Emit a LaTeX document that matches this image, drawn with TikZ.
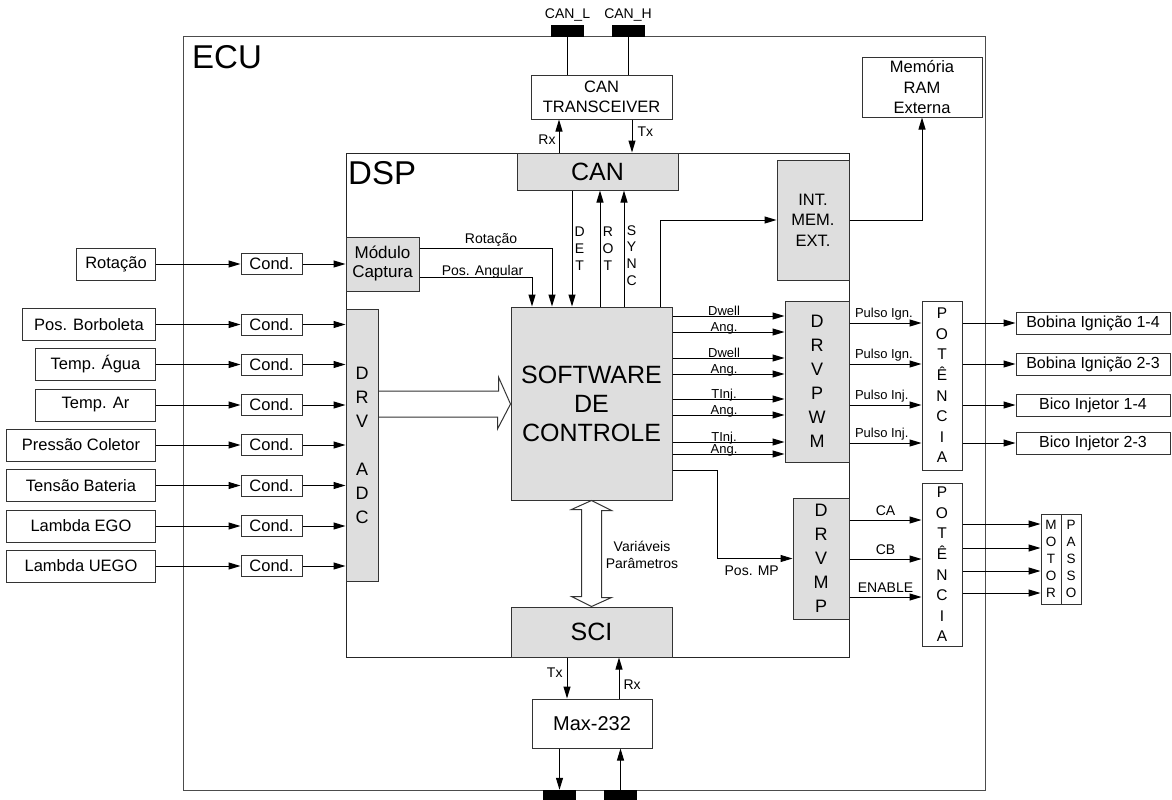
\documentclass[tikz,border=0pt]{standalone}
\usepackage{fontspec}
\setmainfont{Liberation Sans}
\usetikzlibrary{arrows.meta, positioning}
\newcommand{\szbig}{\fontsize{33}{38}\selectfont}
\newcommand{\szblk}{\fontsize{25}{29}\selectfont}
\newcommand{\sznorm}{\fontsize{16.5}{20.5}\selectfont}
\newcommand{\szout}{\fontsize{16}{19}\selectfont}
\newcommand{\szmod}{\fontsize{17}{19}\selectfont}
\newcommand{\szmax}{\fontsize{20}{24}\selectfont}
\newcommand{\szlab}{\fontsize{14}{16.7}\selectfont}
\newcommand{\sztiny}{\fontsize{13}{15}\selectfont}
\newcommand{\szdrv}{\fontsize{18}{24}\selectfont}
\newcommand{\szpot}{\fontsize{15.5}{20.6}\selectfont}
\newcommand{\szmot}{\fontsize{13.5}{17}\selectfont}
\tikzset{
  encl/.style={rectangle, draw=black!70, line width=1pt, inner sep=0pt},
  box/.style={rectangle, draw=black!80, fill=white, line width=1pt,
              inner sep=0pt, align=center, font=\sznorm},
  gbox/.style={box, fill=black!13},
  cond/.style={box, minimum width=61, minimum height=21},
  jack/.style={rectangle, fill=black, minimum width=33, minimum height=12, inner sep=0pt},
  lab/.style={inner sep=0pt, font=\szlab},
  tlab/.style={inner sep=0pt, font=\sztiny},
  vlab/.style={inner sep=0pt, align=center, font=\szlab},
  e/.style={line width=1pt, black},
  arr/.style={e, -{Triangle[length=12pt, width=7pt]}},
  hol/.style={line width=1pt, draw=black!80},
}

\begin{document}
\begin{tikzpicture}[x=1pt, y=-1pt]
  \useasboundingbox (0,0) rectangle (1172,800);
  % frames
  \node[encl, minimum width=802, minimum height=753] (ecu) at (584,413.5) {};
  \node[font=\szbig, inner sep=0pt, anchor=base west] (ecul) at (192,68) {ECU};
  \node[encl, draw=black!85, minimum width=503, minimum height=504] (dsp) at (597.5,405) {};
  \node[font=\szbig, inner sep=0pt, anchor=base west] (dspl) at (348,184) {DSP};

  % connectors
  \node[jack] (canl) at (567.5,31) {};
  \node[jack] (canh) at (628,31) {};
  \node[jack] (rs1) at (559.5,796) {};
  \node[jack] (rs2) at (620.5,796) {};
  \node[lab, above=3pt of canl] (canlt) {CAN\_L};
  \node[lab, above=3pt of canh] (canht) {CAN\_H};

  % blocks
  \node[box, minimum width=141, minimum height=44] (trans) at (601.5,97) {CAN\\TRANSCEIVER};
  \node[gbox, minimum width=161, minimum height=37, font=\szblk] (canb) at (597.5,171.5) {CAN};
  \node[gbox, minimum width=161, minimum height=193, font=\szblk] (sw) at (591.5,403.5) {SOFTWARE\\DE\\CONTROLE};
  \node[gbox, minimum width=161, minimum height=50, font=\szblk] (sci) at (591.5,632) {SCI};
  \node[box, minimum width=120, minimum height=49, font=\szmax] (max) at (592,723.5) {Max-232};
  \node[gbox, minimum width=72, minimum height=120] (intmem) at (813,220) {INT.\\MEM.\\EXT.};
  \node[box, minimum width=120, minimum height=59] (ram) at (922,87.5) {Memória\\RAM\\Externa};
  \node[gbox, minimum width=73, minimum height=54, font=\szmod] (mod) at (382.5,264) {Módulo\\Captura};
  \node[gbox, minimum width=32, minimum height=272, font=\szdrv] (adc) at (362,445) {D\\R\\V\\[24pt]A\\D\\C};
  \node[gbox, minimum width=64, minimum height=161, font=\szdrv] (pwm) at (817,381.5) {D\\R\\V\\P\\W\\M};
  \node[gbox, minimum width=56, minimum height=121, font=\szdrv] (drvmp) at (821,558.5) {D\\R\\V\\M\\P};
  \node[box, minimum width=40, minimum height=169, font=\szpot] (pot1) at (942,385.5) {P\\O\\T\\Ê\\N\\C\\I\\A};
  \node[box, minimum width=40, minimum height=163, font=\szpot] (pot2) at (942,564.5) {P\\O\\T\\Ê\\N\\C\\I\\A};
  \node[box, minimum width=20, minimum height=90, font=\szmot] (motor) at (1051,559) {M\\O\\T\\O\\R};
  \node[box, minimum width=20, minimum height=90, font=\szmot] (passo) at (1071,559) {P\\A\\S\\S\\O};

  % CAN side
  \draw[e] (canl.south) -- (trans.north -| canl.south);
  \draw[e] (canh.south) -- (trans.north -| canh.south);
  \draw[arr] (canb.north -| 559,0) -- node[lab, left=3pt, pos=0.4] {Rx} (trans.south -| 559,0);
  \draw[arr] (trans.south -| 632,0) -- node[lab, right=5pt, pos=0.38] {Tx} (canb.north -| 632,0);
  \draw[arr] (canb.south -| 572,0) -- node[vlab, right=2pt] {D\\E\\T} (sw.north -| 572,0);
  \draw[arr] (sw.north -| 600,0) -- node[vlab, right=2pt] {R\\O\\T} (canb.south -| 600,0);
  \draw[arr] (sw.north -| 624,0) -- node[vlab, right=2pt, pos=0.44] {S\\Y\\N\\C} (canb.south -| 624,0);

  % memory
  \draw[arr] (sw.north -| 660,0) |- (intmem.west);
  \draw[arr] (intmem.east) -| (ram.south);

  % inputs
  \node[box, minimum width=79, minimum height=32, anchor=east] (in1) at (156,264) {Rotação};
  \node[cond] (c1) at (271.5,264) {Cond.};
  \draw[arr] (in1) -- (c1);
  \draw[arr] (c1) -- (mod.west |- c1);
  \foreach \i/\y/\w/\t in {2/324.5/133/Pos. Borboleta, 3/364.5/120/Temp. Água,
      4/405/120/Temp. Ar, 5/445/149/Pressão Coletor, 6/485.5/149/Tensão Bateria,
      7/526/149/Lambda EGO, 8/566/149/Lambda UEGO} {
    \node[box, minimum width=\w, minimum height=32, anchor=east] (in\i) at (156,\y) {\t};
    \node[cond] (c\i) at (271.5,\y) {Cond.};
    \draw[arr] (in\i) -- (c\i);
    \draw[arr] (c\i) -- (adc.west |- c\i);
  }
  \draw[arr] (mod.east |- 0,248) -| node[lab, pos=0.27, anchor=base, yshift=5pt] {Rotação} (sw.north -| 552,0);
  \draw[arr] (mod.east |- 0,277) -| node[lab, pos=0.28, anchor=base, yshift=2pt] {Pos. Angular} (sw.north -| 532,0);

  % bus arrows
  \coordinate (busT) at (0,391);
  \coordinate (busB) at (0,417);
  \draw[hol] (adc.east |- busT) -- ++(120,0) -- ++(0,-14) -- (sw.west |- 0,404)
    -- ++(-13,25) -- ++(0,-12) -- (adc.east |- busB);
  \draw[hol] (sw.south) -- ++(20,10) -- ++(-10,0) -- ++(0,87) -- ++(10,0) -- (sci.north)
    -- ++(-20,-10) -- ++(10,0) -- ++(0,-87) -- ++(-10,0) -- cycle;
  \node[align=center, inner sep=0pt, font=\szlab] (varl) at (642,555) {Variáveis\\Parâmetros};

  % PWM side
  \foreach \y/\t in {316/Dwell, 332/Ang., 358/Dwell, 374/Ang., 399/TInj., 415/Ang., 442/TInj., 454/Ang.}
    \draw[arr] (sw.east |- 0,\y) -- node[tlab, pos=0.46, anchor=base, yshift=1pt] {\t} (pwm.west |- 0,\y);
  \foreach \i/\y/\t/\o in {1/323/Pulso Ign./Bobina Ignição 1-4, 2/364/Pulso Ign./Bobina Ignição 2-3,
      3/405/Pulso Inj./Bico Injetor 1-4, 4/443/Pulso Inj./Bico Injetor 2-3} {
    \node[box, minimum width=154, minimum height=22, font=\szout] (out\i) at (1093,\y) {\o};
    \draw[arr] (pwm.east |- out\i) -- node[tlab, at start, anchor=base west, xshift=5pt, yshift=6pt] {\t} (pot1.west |- out\i);
    \draw[arr] (pot1.east |- out\i) -- (out\i);
  }

  % stepper side
  \draw[arr] (sw.east |- 0,470) -| (717,0 |- drvmp.west)
    -- node[lab, below=7pt, pos=0.46] {Pos. MP} (drvmp.west);
  \foreach \y/\t in {520/CA, 559/CB, 597/ENABLE}
    \draw[arr] (drvmp.east |- 0,\y) -- node[lab, anchor=base, yshift=5pt] {\t} (pot2.west |- 0,\y);
  \foreach \y in {524,548,571,593}
    \draw[arr] (pot2.east |- 0,\y) -- (motor.west |- 0,\y);

  % serial
  \draw[arr] (sci.south -| 567,0) -- node[lab, left=4pt, pos=0.38] {Tx} (max.north -| 567,0);
  \draw[arr] (max.north -| 619,0) -- node[lab, right=4pt, pos=0.33] {Rx} (sci.south -| 619,0);
  \draw[arr] (max.south -| rs1) -- (rs1.north);
  \draw[arr] (rs2.north) -- (max.south -| rs2);
\end{tikzpicture}
\end{document}
